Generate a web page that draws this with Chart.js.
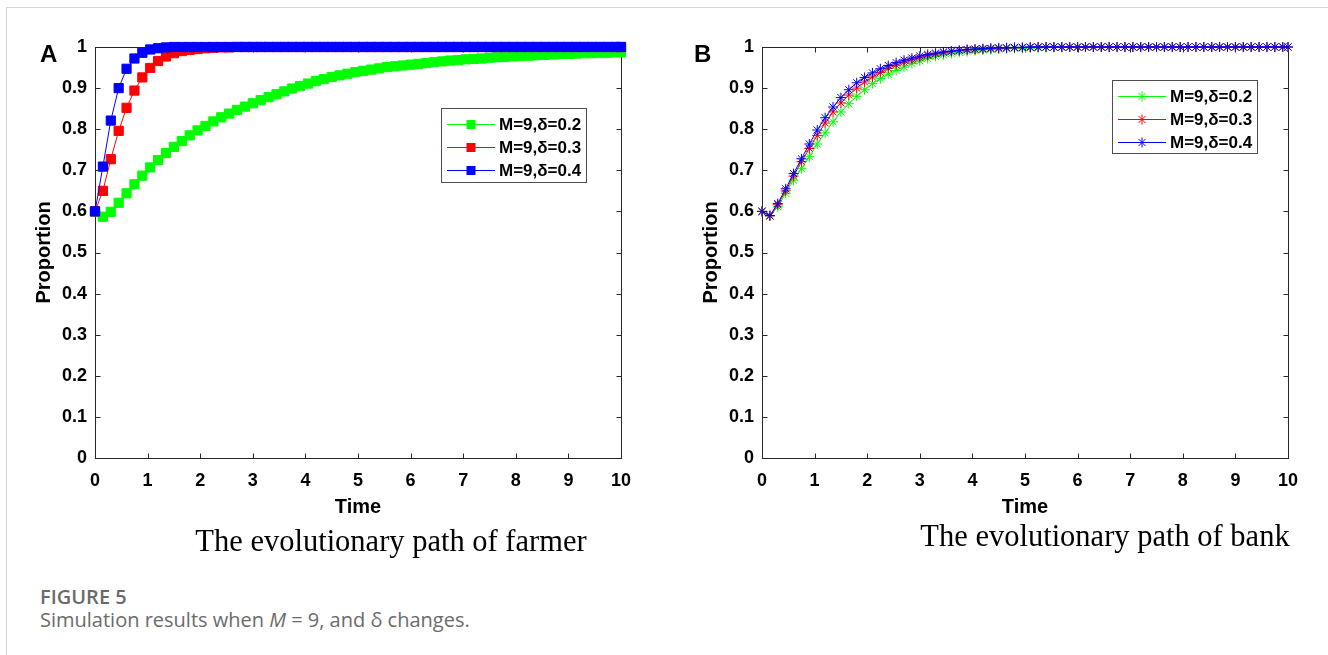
<!DOCTYPE html>
<html><head><meta charset="utf-8">
<script src="https://cdn.jsdelivr.net/npm/chart.js@4"></script>
<style>
body{margin:0;width:1328px;height:655px;background:#fff;position:relative;overflow:hidden}
.frameTop{position:absolute;left:6px;top:7px;width:1322px;height:1px;background:#d6d6d6}
.frameLeft{position:absolute;left:6px;top:7px;width:1px;height:648px;background:#d6d6d6}
canvas{position:absolute;top:0}
.panel{position:absolute;font:bold 24px 'Liberation Sans',Arial,sans-serif;line-height:24px;color:#000}
.cap{position:absolute;font:30.5px 'Liberation Serif','Times New Roman',serif;line-height:30px;white-space:nowrap;transform:translateX(-50%);color:#000}
.fig{position:absolute;left:40px;top:585px;font:600 20px 'Open Sans',sans-serif;line-height:24px;color:#6b6b6b}
.sub{position:absolute;left:40px;top:608px;font:400 20px 'Open Sans',sans-serif;line-height:24px;color:#6b6b6b;white-space:nowrap}
</style></head>
<body>
<div class="frameTop"></div><div class="frameLeft"></div>
<canvas id="c1" width="660" height="530" style="left:0"></canvas>
<canvas id="c2" width="660" height="530" style="left:667px"></canvas>
<div class="panel" style="left:40px;top:42px">A</div>
<div class="panel" style="left:694px;top:42px">B</div>
<div class="cap" style="left:391px;top:526px">The evolutionary path of farmer</div>
<div class="cap" style="left:1105px;top:521px">The evolutionary path of bank</div>
<div class="fig">FIGURE 5</div>
<div class="sub">Simulation results when <i>M</i> = 9, and δ changes.</div>
<script>
const times = [0,0.15,0.3,0.45,0.6,0.75,0.9,1.05,1.2,1.35,1.5,1.65,1.8,1.95,2.1,2.25,2.4,2.55,2.7,2.85,3,3.15,3.3,3.45,3.6,3.75,3.9,4.05,4.2,4.35,4.5,4.65,4.8,4.95,5.1,5.25,5.4,5.55,5.7,5.85,6,6.15,6.3,6.45,6.6,6.75,6.9,7.05,7.2,7.35,7.5,7.65,7.8,7.95,8.1,8.25,8.4,8.55,8.7,8.85,9,9.15,9.3,9.45,9.6,9.75,9.9,10];

const seriesLabels = ['M=9,δ=0.2','M=9,δ=0.3','M=9,δ=0.4'];
const seriesColors = ['#00ff00','#ff0000','#0000ff'];

const farmerD02 = [0.600,0.587,0.599,0.621,0.644,0.666,0.687,0.707,0.725,0.742,
0.757,0.771,0.785,0.797,0.808,0.819,0.829,0.838,0.847,0.855,
0.863,0.871,0.878,0.885,0.892,0.899,0.905,0.911,0.917,0.922,
0.927,0.931,0.935,0.939,0.942,0.945,0.948,0.951,0.953,0.955,
0.957,0.959,0.961,0.963,0.965,0.967,0.968,0.970,0.971,0.972,
0.974,0.975,0.976,0.977,0.978,0.979,0.980,0.981,0.982,0.983,
0.983,0.984,0.985,0.985,0.986,0.986,0.987,0.987];
const farmerD03 = [0.600,0.650,0.727,0.796,0.852,0.894,0.926,0.949,0.966,0.977,
0.985,0.990,0.993,0.995,0.997,0.998,0.999,0.999,1.000,1.000,
1.000,1.000,1.000,1.000,1.000,1.000,1.000,1.000,1.000,1.000,
1.000,1.000,1.000,1.000,1.000,1.000,1.000,1.000,1.000,1.000,
1.000,1.000,1.000,1.000,1.000,1.000,1.000,1.000,1.000,1.000,
1.000,1.000,1.000,1.000,1.000,1.000,1.000,1.000,1.000,1.000,
1.000,1.000,1.000,1.000,1.000,1.000,1.000,1.000];
const farmerD04 = [0.600,0.709,0.821,0.900,0.947,0.972,0.986,0.994,0.997,0.999,
1.000,1.000,1.000,1.000,1.000,1.000,1.000,1.000,1.000,1.000,
1.000,1.000,1.000,1.000,1.000,1.000,1.000,1.000,1.000,1.000,
1.000,1.000,1.000,1.000,1.000,1.000,1.000,1.000,1.000,1.000,
1.000,1.000,1.000,1.000,1.000,1.000,1.000,1.000,1.000,1.000,
1.000,1.000,1.000,1.000,1.000,1.000,1.000,1.000,1.000,1.000,
1.000,1.000,1.000,1.000,1.000,1.000,1.000,1.000];

const bankD02 = [0.600,0.589,0.611,0.644,0.676,0.704,0.733,0.764,0.791,0.818,
0.842,0.862,0.880,0.896,0.911,0.923,0.934,0.943,0.951,0.960,
0.966,0.972,0.977,0.981,0.984,0.987,0.989,0.991,0.993,0.994,
0.995,0.996,0.997,0.997,0.998,0.998,0.999,0.999,0.999,1.000,
1.000,1.000,1.000,1.000,1.000,1.000,1.000,1.000,1.000,1.000,
1.000,1.000,1.000,1.000,1.000,1.000,1.000,1.000,1.000,1.000,
1.000,1.000,1.000,1.000,1.000,1.000,1.000,1.000];
const bankD03 = [0.600,0.589,0.616,0.650,0.686,0.721,0.753,0.785,0.815,0.842,
0.864,0.883,0.900,0.915,0.927,0.938,0.948,0.956,0.963,0.969,
0.974,0.979,0.983,0.986,0.989,0.991,0.993,0.994,0.995,0.996,
0.997,0.998,0.998,0.999,0.999,1.000,1.000,1.000,1.000,1.000,
1.000,1.000,1.000,1.000,1.000,1.000,1.000,1.000,1.000,1.000,
1.000,1.000,1.000,1.000,1.000,1.000,1.000,1.000,1.000,1.000,
1.000,1.000,1.000,1.000,1.000,1.000,1.000,1.000];
const bankD04 = [0.600,0.590,0.619,0.655,0.692,0.728,0.764,0.798,0.828,0.854,
0.877,0.896,0.913,0.926,0.937,0.947,0.955,0.962,0.968,0.973,
0.978,0.982,0.985,0.988,0.990,0.992,0.994,0.995,0.996,0.997,
0.998,0.998,0.999,0.999,1.000,1.000,1.000,1.000,1.000,1.000,
1.000,1.000,1.000,1.000,1.000,1.000,1.000,1.000,1.000,1.000,
1.000,1.000,1.000,1.000,1.000,1.000,1.000,1.000,1.000,1.000,
1.000,1.000,1.000,1.000,1.000,1.000,1.000,1.000];

const xTickValues = [0,1,2,3,4,5,6,7,8,9,10];
const xTickLabels = ['0','1','2','3','4','5','6','7','8','9','10'];
const yTickValues = [0,0.1,0.2,0.3,0.4,0.5,0.6,0.7,0.8,0.9,1];
const yTickLabels = ['0','0.1','0.2','0.3','0.4','0.5','0.6','0.7','0.8','0.9','1'];

const AXIS = '#262626';

const boxPlugin = {
  id: 'matlabBox',
  beforeDatasetsDraw(chart) {
    const {ctx, chartArea: a, scales: {x, y}} = chart;
    ctx.save();
    ctx.strokeStyle = AXIS; ctx.lineWidth = 1;
    const L = Math.round(a.left) + 0.5, R = Math.round(a.right) + 0.5;
    const T = Math.round(a.top) + 0.5, B = Math.round(a.bottom) + 0.5;
    ctx.strokeRect(L, T, R - L, B - T);
    const len = 5;
    ctx.beginPath();
    x.ticks.forEach(t => {
      const px = Math.round(x.getPixelForValue(t.value)) + 0.5;
      ctx.moveTo(px, B); ctx.lineTo(px, B - len);
      ctx.moveTo(px, T); ctx.lineTo(px, T + len);
    });
    y.ticks.forEach(t => {
      const py = Math.round(y.getPixelForValue(t.value)) + 0.5;
      ctx.moveTo(L, py); ctx.lineTo(L + len, py);
      ctx.moveTo(R, py); ctx.lineTo(R - len, py);
    });
    ctx.stroke();
    ctx.restore();
  }
};

function drawMarker(ctx, style, x, y, color) {
  ctx.fillStyle = color; ctx.strokeStyle = color; ctx.lineWidth = 1;
  if (style === 'rect') {
    ctx.fillRect(x - 4.5, y - 4.5, 9, 9);
  } else {
    const r = 5, d = r * Math.SQRT1_2;
    ctx.beginPath();
    ctx.moveTo(x - r, y); ctx.lineTo(x + r, y);
    ctx.moveTo(x, y - r); ctx.lineTo(x, y + r);
    ctx.moveTo(x - d, y - d); ctx.lineTo(x + d, y + d);
    ctx.moveTo(x - d, y + d); ctx.lineTo(x + d, y - d);
    ctx.stroke();
  }
}

const legendPlugin = {
  id: 'insideLegend',
  afterDraw(chart, args, opts) {
    const {ctx} = chart;
    const b = opts.box;
    ctx.save();
    ctx.fillStyle = '#fff';
    ctx.fillRect(b.x, b.y, b.w, b.h);
    ctx.strokeStyle = '#4d4d4d'; ctx.lineWidth = 1;
    ctx.strokeRect(b.x + 0.5, b.y + 0.5, b.w, b.h);
    chart.data.datasets.forEach((ds, i) => {
      const cy = b.y + 16 + i * 23;
      ctx.strokeStyle = ds.borderColor; ctx.lineWidth = 1;
      ctx.beginPath();
      ctx.moveTo(b.x + 6, cy + 0.5); ctx.lineTo(b.x + 54, cy + 0.5);
      ctx.stroke();
      drawMarker(ctx, ds.pointStyle, b.x + 30, cy + 0.5, ds.borderColor);
      ctx.fillStyle = '#000';
      ctx.font = "bold 17px 'Liberation Sans', Arial, sans-serif";
      ctx.textBaseline = 'middle'; ctx.textAlign = 'left';
      ctx.fillText(ds.label, b.x + 58, cy + 1);
    });
    ctx.restore();
  }
};

function makeChart(id, series, style, radius, legendBox) {
  const datasets = series.map((vals, i) => ({
    label: seriesLabels[i],
    data: times.map((t, k) => ({x: t, y: vals[k]})),
    borderColor: seriesColors[i],
    backgroundColor: seriesColors[i],
    pointBackgroundColor: seriesColors[i],
    pointBorderColor: seriesColors[i],
    pointStyle: style,
    pointRadius: radius,
    pointBorderWidth: 1,
    borderWidth: 1,
    tension: 0,
    clip: false,
    order: 3 - i
  }));
  const tickFont = {family: "'Liberation Sans', Arial, sans-serif", size: 18, weight: 'bold'};
  const titleFont = {family: "'Liberation Sans', Arial, sans-serif", size: 20, weight: 'bold'};
  return new Chart(document.getElementById(id), {
    type: 'line',
    data: {datasets},
    options: {
      responsive: false, animation: false, events: [],
      layout: {padding: {left: 0, right: 39, top: 47, bottom: 0}},
      plugins: {legend: {display: false}, tooltip: {enabled: false}, insideLegend: {box: legendBox}},
      scales: {
        x: {
          type: 'linear', min: 0, max: 10,
          afterBuildTicks: s => { s.ticks = xTickValues.map(v => ({value: v})); },
          afterFit: s => { s.height = 72; },
          grid: {display: false, drawTicks: false}, border: {display: false},
          ticks: {font: tickFont, color: '#000', padding: 12, autoSkip: false, maxRotation: 0,
                  callback: (v, i) => xTickLabels[i]},
          title: {display: true, text: 'Time', font: titleFont, color: '#000', padding: {top: 0, bottom: 11}}
        },
        y: {
          type: 'linear', min: 0, max: 1,
          afterBuildTicks: s => { s.ticks = yTickValues.map(v => ({value: v})); },
          afterFit: s => { s.width = 95; },
          grid: {display: false, drawTicks: false}, border: {display: false},
          ticks: {font: tickFont, color: '#000', padding: 8, autoSkip: false,
                  callback: (v, i) => yTickLabels[i]},
          title: {display: true, text: 'Proportion', font: titleFont, color: '#000', padding: {top: 32, bottom: 0}}
        }
      }
    },
    plugins: [boxPlugin, legendPlugin]
  });
}

makeChart('c1', [farmerD02, farmerD03, farmerD04], 'rect', 6.5, {x: 441, y: 108, w: 145, h: 74});
makeChart('c2', [bankD02, bankD03, bankD04], 'star', 5, {x: 445, y: 80, w: 145, h: 73});
</script>
</body></html>
